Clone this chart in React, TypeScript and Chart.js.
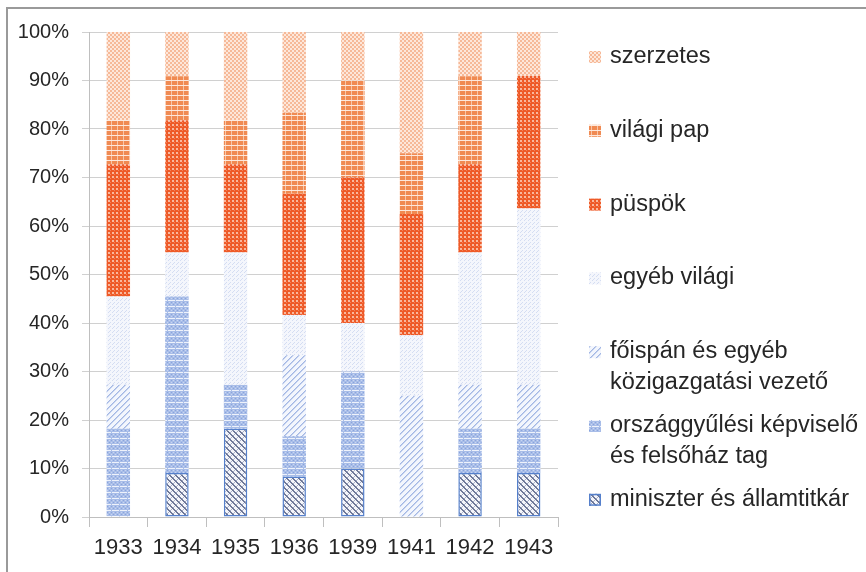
import React, { useEffect, useRef } from 'react';
import { Chart, registerables } from 'chart.js';

Chart.register(...registerables);

const years = ['1933', '1934', '1935', '1936', '1939', '1941', '1942', '1943'];

// percentages, bottom to top of stack
const miniszter = [0, 9.09, 18.18, 8.33, 10, 0, 9.09, 9.09];
const orszaggyulesi = [18.18, 36.36, 9.09, 8.33, 20, 0, 9.09, 9.09];
const foispan = [9.09, 0, 0, 16.67, 0, 25, 9.09, 9.09];
const egyebVilagi = [18.18, 9.09, 27.27, 8.33, 10, 12.5, 27.27, 36.36];
const puspok = [27.27, 27.27, 18.18, 25, 30, 25, 18.18, 27.28];
const vilagiPap = [9.09, 9.09, 9.09, 16.67, 20, 12.5, 18.18, 0];
const szerzetes = [18.2, 9.1, 18.2, 16.67, 10, 25, 9.1, 9.09];

const seriesLabels = [
  ['miniszter és államtitkár'],
  ['országgyűlési képviselő', 'és felsőház tag'],
  ['főispán és egyéb', 'közigazgatási vezető'],
  ['egyéb világi'],
  ['püspök'],
  ['világi pap'],
  ['szerzetes'],
];

const yTicks = [0, 10, 20, 30, 40, 50, 60, 70, 80, 90, 100];

type Draw = (c: CanvasRenderingContext2D) => void;

function makePattern(w: number, h: number, draw: Draw): CanvasPattern {
  const cv = document.createElement('canvas');
  cv.width = w;
  cv.height = h;
  const c = cv.getContext('2d') as CanvasRenderingContext2D;
  draw(c);
  return c.createPattern(cv, 'repeat') as CanvasPattern;
}

function px(c: CanvasRenderingContext2D, color: string, pts: number[][]) {
  c.fillStyle = color;
  pts.forEach(([x, y, w, h]) => c.fillRect(x, y, w ?? 1, h ?? 1));
}

function buildPatterns(): CanvasPattern[] {
  const pMin = makePattern(6, 6, (c) => {
    px(c, '#f4f5fa', [[0, 0, 6, 6]]);
    const dark: number[][] = [];
    const mid: number[][] = [];
    for (let i = 0; i < 6; i++) {
      dark.push([i, i]);
      dark.push([(i + 1) % 6, i]);
      mid.push([(8 - i) % 6, i]);
    }
    px(c, '#a9b0c8', mid);
    px(c, '#6e7898', dark);
  });
  const pParl = makePattern(8, 6, (c) => {
    px(c, '#a8bde8', [[0, 0, 8, 6]]);
    px(c, '#c8d5f1', [[1, 2], [5, 2], [3, 4], [7, 4]]);
    px(c, '#8aa4dc', [[3, 2], [7, 2], [1, 4], [5, 4]]);
    px(c, '#eef2fb', [[0, 0, 7, 1]]);
  });
  const pFoisp = makePattern(6, 6, (c) => {
    px(c, '#f3f6fd', [[0, 0, 6, 6]]);
    const pts: number[][] = [];
    const lt: number[][] = [];
    for (let i = 0; i < 6; i++) {
      pts.push([i, 5 - i]);
      lt.push([(i + 1) % 6, 5 - i]);
    }
    px(c, '#c6d3ef', lt);
    px(c, '#a3b7e4', pts);
  });
  const pEgyeb = makePattern(4, 4, (c) => {
    px(c, '#f4f6fc', [[0, 0, 4, 4]]);
    px(c, '#d4ddf2', [[0, 0], [2, 2], [1, 3]]);
  });
  const pPuspok = makePattern(4, 4, (c) => {
    px(c, '#ee5a28', [[0, 0, 4, 4]]);
    px(c, '#f9b89e', [[0, 0, 2, 2]]);
    px(c, '#f4825a', [[2, 2]]);
  });
  const pVpap = makePattern(6, 5, (c) => {
    px(c, '#f08a52', [[0, 0, 6, 5]]);
    px(c, '#f9c6a8', [[3, 0, 1, 5]]);
    px(c, '#fde8dc', [[0, 0, 6, 1]]);
  });
  const pSzerz = makePattern(4, 4, (c) => {
    px(c, '#fde7da', [[0, 0, 4, 4]]);
    px(c, '#f6b998', [[0, 0, 2, 2], [2, 2, 2, 2]]);
  });
  return [pMin, pParl, pFoisp, pEgyeb, pPuspok, pVpap, pSzerz];
}

const FONT = '"Liberation Sans", Arial, sans-serif';
const TEXT = '#262626';

const legendPlugin = {
  id: 'sideLegend',
  afterDraw(chart: any) {
    const ctx = chart.ctx as CanvasRenderingContext2D;
    const ds = chart.data.datasets.slice().reverse();
    const x0 = chart.chartArea.right + 31;
    const firstBaseline = 63;
    const step = 73.8;
    const lineGap = 31;
    ctx.save();
    ctx.font = '23.5px ' + FONT;
    ctx.textBaseline = 'alphabetic';
    ctx.textAlign = 'left';
    ds.forEach((d: any, i: number) => {
      const base = firstBaseline + i * step;
      ctx.fillStyle = d.backgroundColor;
      ctx.fillRect(x0, base - 12, 12, 12);
      if (d.borderWidth) {
        ctx.strokeStyle = d.borderColor;
        ctx.lineWidth = 1.5;
        ctx.strokeRect(x0 + 0.75, base - 11.25, 10.5, 10.5);
      }
      ctx.fillStyle = TEXT;
      (d.legendLines as string[]).forEach((ln, j) => {
        ctx.fillText(ln, x0 + 21, base + j * lineGap);
      });
    });
    ctx.restore();
  },
};

export default function App() {
  const ref = useRef<HTMLCanvasElement | null>(null);

  useEffect(() => {
    const canvas = ref.current;
    if (!canvas) return;
    const patterns = buildPatterns();
    const values = [miniszter, orszaggyulesi, foispan, egyebVilagi, puspok, vilagiPap, szerzetes];
    const datasets = values.map((v, i) => ({
      label: seriesLabels[i].join(' '),
      legendLines: seriesLabels[i],
      data: v,
      backgroundColor: patterns[i],
      borderColor: i === 0 ? '#5580cc' : 'rgba(0,0,0,0)',
      borderWidth: i === 0 ? 1.5 : 0,
      borderSkipped: false,
      barPercentage: 0.5,
      categoryPercentage: 0.8,
    }));

    const chart = new Chart(canvas, {
      type: 'bar',
      data: { labels: years, datasets: datasets as any },
      options: {
        animation: false,
        responsive: false,
        devicePixelRatio: 1,
        layout: { padding: { top: 32, right: 308, left: 0, bottom: 0 } },
        plugins: {
          legend: { display: false },
          tooltip: { enabled: false },
        },
        scales: {
          x: {
            stacked: true,
            grid: {
              offset: true,
              drawOnChartArea: false,
              drawTicks: true,
              tickLength: 10,
              color: '#bfbfbf',
            },
            border: { color: '#bfbfbf', width: 1 },
            ticks: {
              color: TEXT,
              font: { family: FONT, size: 22 },
              padding: 8,
              maxRotation: 0,
            },
            afterFit: (s: any) => {
              s.height = 55;
            },
          },
          y: {
            stacked: true,
            min: 0,
            max: 100,
            afterBuildTicks: (s: any) => {
              s.ticks = yTicks.map((v) => ({ value: v }));
            },
            grid: { color: '#d0d0d0', tickLength: 7, lineWidth: 1 },
            border: { color: '#bfbfbf', width: 1 },
            ticks: {
              color: TEXT,
              font: { family: FONT, size: 20 },
              padding: 13,
              callback: (v: any) => v + '%',
            },
            afterFit: (s: any) => {
              s.width = 89;
            },
          },
        },
      },
      plugins: [legendPlugin],
    });
    return () => chart.destroy();
  }, []);

  return (
    <div>
      <div
        style={{
          position: 'absolute',
          left: 6,
          top: 7,
          width: 900,
          height: 600,
          border: '2px solid #9a9a9a',
          boxSizing: 'border-box',
        }}
      />
      <canvas
        ref={ref}
        width={866}
        height={572}
        style={{ position: 'absolute', left: 0, top: 0, width: 866, height: 572 }}
      />
    </div>
  );
}
